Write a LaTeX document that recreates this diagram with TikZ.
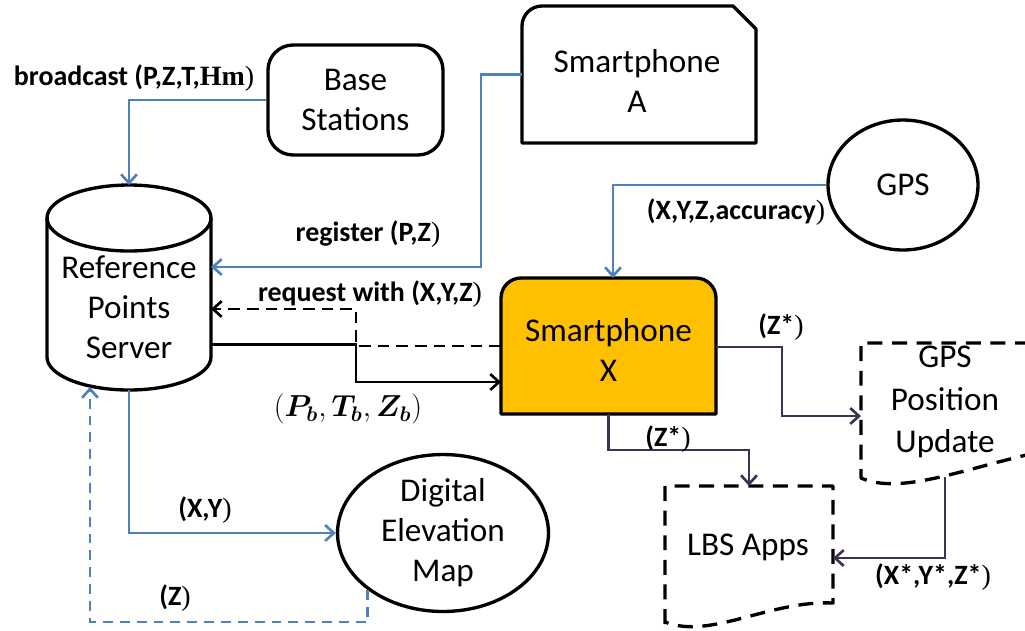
\documentclass[tikz,border=0pt]{standalone}
\usepackage{amsmath}
\usepackage{fontspec}
\setmainfont{Carlito}
\newfontfamily\serifpart{Liberation Serif}
\usetikzlibrary{arrows.meta,shapes.geometric,calc}

\definecolor{linkblue}{HTML}{4F81BD}
\definecolor{flowpurple}{HTML}{403152}
\definecolor{phoneorange}{HTML}{FFC000}

% thin closing bracket used after the bold labels
\newcommand\thinclose{{\normalfont\serifpart )}}

\tikzset{
  shapeline/.style={line width=1.9pt, draw=black, line join=round},
  docline/.style={shapeline, dash pattern=on 8.5pt off 5.5pt},
  area/.style={draw=none, inner sep=0pt, outer sep=0pt},
  boxtext/.style={font=\fontsize{18.9}{22.7}\selectfont, align=center, inner sep=0pt},
  lbl/.style={font=\fontsize{15.9}{19}\selectfont\bfseries, inner sep=0pt},
  link/.style={line width=1.5pt, -{Straight Barb[length=5pt,width=9pt]}},
  bluelink/.style={link, draw=linkblue},
  bluedash/.style={bluelink, dash pattern=on 5.6pt off 4pt},
  blacklink/.style={link, draw=black},
  blackdash/.style={blacklink, dash pattern=on 6.6pt off 4pt},
  purplelink/.style={link, draw=flowpurple},
}

\begin{document}
\begin{tikzpicture}[x=0.02cm, y=-0.02cm]
\useasboundingbox (0,0) rectangle (1025,630);

% ---------- Base stations ----------
\node[shapeline, rounded corners=0.5cm, minimum width=3.5cm, minimum height=2.2cm,
      boxtext] (bs) at (355.5,100) {Base\\Stations};

% ---------- Reference points server (cylinder) ----------
\node[area, minimum width=3.28cm, minimum height=4.1cm] (rps) at (129,287.5) {};
\draw[shapeline, fill=white]
  (47,218) -- (47,357)
  .. controls (47,375.2) and (83.7,390) .. (129,390)
  .. controls (174.3,390) and (211,375.2) .. (211,357)
  -- (211,218);
\draw[shapeline] (129,218) ellipse [x radius=1.64cm, y radius=0.66cm];
\node[boxtext] (rpstext) at (129,307) {Reference\\Points\\Server};
\coordinate (zin) at ($(rps.south)+(-39,-3)$);

% ---------- Smartphone A (snipped corner box) ----------
\node[area, minimum width=4.68cm, minimum height=2.74cm] (spa) at (639,74.5) {};
\draw[shapeline]
  (522,143) -- (522,26) .. controls (522,15) and (531,6) .. (542,6)
  -- (733,6) -- (756,29) -- (756,143) -- cycle;
\node[boxtext] (spatext) at (637,81) {Smartphone\\A};

% ---------- GPS ----------
\node[shapeline, ellipse, minimum width=3cm, minimum height=2.6cm, inner sep=0pt,
      boxtext] (gps) at (903,185) {GPS};

% ---------- Smartphone X ----------
\node[area, minimum width=4.3cm, minimum height=2.72cm] (spx) at (608.5,346) {};
\draw[shapeline, fill=phoneorange]
  (501,414) -- (501,298) .. controls (501,287) and (510,278) .. (521,278)
  -- (696,278) .. controls (707,278) and (716,287) .. (716,298)
  -- (716,414) -- cycle;
\node[boxtext] (spxtext) at (608.5,350) {Smartphone\\X};

% ---------- GPS position update (document) ----------
\node[area, minimum width=3.6cm, minimum height=2.7cm] (gpu) at (951,410.5) {};
\draw[docline]
  (1030,343) -- (861,343) -- (861,478)
  .. controls (900,495) and (960,470) .. (1035,453);
\node[boxtext, font=\fontsize{18.9}{24}\selectfont] (gputext) at (945,402) {GPS\\Position\\Update};

% ---------- LBS apps (document) ----------
\node[area, minimum width=3.36cm, minimum height=2.76cm] (lbs) at (749,555) {};
\draw[docline]
  (665,624) -- (665,486) -- (833,486) -- (833,603)
  .. controls (770,600) and (710,640) .. (665,622);
\node[boxtext] (lbstext) at (748,547) {LBS Apps};

% ---------- Digital elevation map ----------
\node[shapeline, ellipse, minimum width=4.22cm, minimum height=3.14cm, inner sep=0pt,
      fill=white, boxtext] (dem) at (443,533) {Digital\\Elevation\\Map};

% ---------- Connectors ----------
\draw[bluelink] (bs.west) -| (rps.north);
\draw[bluelink] (spa.west) -- ++(-41,0) |- ($(rps.east)+(0,-20.5)$);
\draw[blackdash] (spx.west) -- ++(-145,0) |- ($(rps.east)+(0,21.5)$);
\draw[blacklink] ($(rps.east)+(0,57)$) -- ++(145,0) |- ($(spx.west)+(0,36)$);
\draw[bluelink] (gps.west) -| ($(spx.north)+(4.5,0)$);
\draw[purplelink] ($(spx.east)+(0,1)$) -- ++(66,0) |- ($(gpu.west)+(0,5.5)$);
\draw[purplelink] (spx.south) -- ++(0,36) -| (lbs.north);
\draw[purplelink] ($(gpu.south)+(-6,-1)$) |- ($(lbs.east)+(0,3)$);
\draw[bluelink] (rps.south) |- (dem.west);
\draw[bluedash] (dem.217) -- ++(0,32) -| (zin);

% ---------- Labels ----------
\node[lbl] (lbroad) at (134,78) {broadcast (P,Z,T,{\serifpart Hm}\thinclose};
\node[lbl] (lreg) at (368,234) {register (P,Z\thinclose};
\node[lbl] (lreq) at (370,294) {request with (X,Y,Z\thinclose};
\node[inner sep=0pt, font=\fontsize{17.5}{20}\selectfont] (lpb) at (348,409)
  {$(\boldsymbol{P_b},\boldsymbol{T_b},\boldsymbol{Z_b})$};
\node[lbl] (lgps) at (736,212) {(X,Y,Z,accuracy\thinclose};
\node[lbl] (lz1) at (781,327) {(Z*\thinclose};
\node[lbl] (lz2) at (668,439) {(Z*\thinclose};
\node[lbl] (lxyz) at (933,577) {(X*,Y*,Z*\thinclose};
\node[lbl] (lxy) at (205,510) {(X,Y\thinclose};
\node[lbl] (lz) at (175,598) {(Z\thinclose};
\end{tikzpicture}
\end{document}
